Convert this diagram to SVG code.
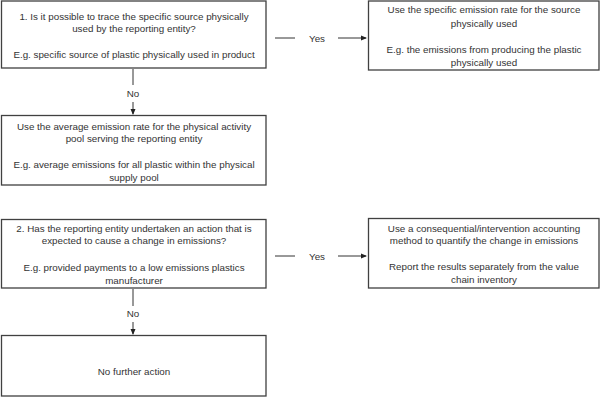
<svg xmlns="http://www.w3.org/2000/svg" width="600" height="406" viewBox="0 0 600 406">
<style>
.box{fill:#fff;stroke:#404040;stroke-width:1.3}
text{font-family:"Liberation Sans",Arial,sans-serif;font-size:9.8px;fill:#333;text-anchor:middle}
.c{stroke:#333;stroke-width:1;fill:none}
</style>
<defs>
<marker id="ah" markerWidth="6" markerHeight="6" refX="5" refY="3" orient="auto" markerUnits="userSpaceOnUse">
<path d="M0,0.5 L6,3 L0,5.5 Z" fill="#222"/>
</marker>
</defs>
<rect width="600" height="406" fill="#fff"/>
<g id="q1">
<rect class="box" x="1.5" y="1" width="264.5" height="67"/>
<text x="134" y="19.5">1. Is it possible to trace the specific source physically</text>
<text x="134" y="32">used by the reporting entity?</text>
<text x="134" y="57.5">E.g. specific source of plastic physically used in product</text>
</g>
<g id="specific">
<rect class="box" x="368.5" y="1" width="230.5" height="69"/>
<text x="484" y="13">Use the specific emission rate for the source</text>
<text x="484" y="26.5">physically used</text>
<text x="484" y="52.5">E.g. the emissions from producing the plastic</text>
<text x="484" y="65.5">physically used</text>
</g>
<g id="average">
<rect class="box" x="1.5" y="115.5" width="264.5" height="69.5"/>
<text x="134" y="129.5">Use the average emission rate for the physical activity</text>
<text x="134" y="142">pool serving the reporting entity</text>
<text x="134" y="167.5">E.g. average emissions for all plastic within the physical</text>
<text x="134" y="180.5">supply pool</text>
</g>
<g id="q2">
<rect class="box" x="1.5" y="219.5" width="264.5" height="68.5"/>
<text x="134" y="231.5">2. Has the reporting entity undertaken an action that is</text>
<text x="134" y="244">expected to cause a change in emissions?</text>
<text x="134" y="270.5">E.g. provided payments to a low emissions plastics</text>
<text x="134" y="283.5">manufacturer</text>
</g>
<g id="consequential">
<rect class="box" x="368.5" y="218.5" width="230.5" height="69.5"/>
<text x="484" y="231.5">Use a consequential/intervention accounting</text>
<text x="484" y="244">method to quantify the change in emissions</text>
<text x="484" y="269.5">Report the results separately from the value</text>
<text x="484" y="282.5">chain inventory</text>
</g>
<g id="nofurther">
<rect class="box" x="1.5" y="335.5" width="264.5" height="60.5"/>
<text x="134" y="374.5">No further action</text>
</g>
<g id="connectors">
<path class="c" d="M275,38 H295"/>
<path class="c" d="M338,38 H366" marker-end="url(#ah)"/>
<text x="317" y="41.5">Yes</text>
<path class="c" d="M133,69 V85"/>
<path class="c" d="M133,102 V114" marker-end="url(#ah)"/>
<text x="133" y="96.5">No</text>
<path class="c" d="M275,256 H295"/>
<path class="c" d="M338,256 H366" marker-end="url(#ah)"/>
<text x="317" y="259.5">Yes</text>
<path class="c" d="M133,289 V306"/>
<path class="c" d="M133,322 V334" marker-end="url(#ah)"/>
<text x="133" y="316.5">No</text>
</g>
</svg>
